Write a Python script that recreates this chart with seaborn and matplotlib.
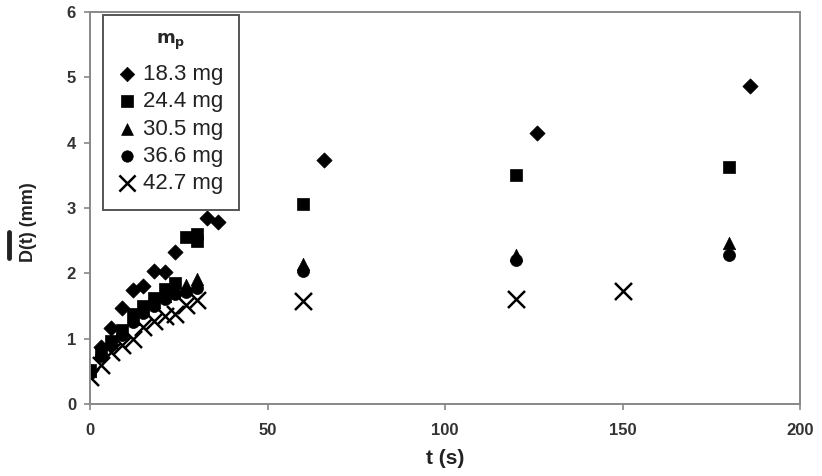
import matplotlib
matplotlib.use("Agg")
import matplotlib.pyplot as plt
import seaborn as sns
import pandas as pd
from matplotlib.lines import Line2D

sns.set_style("white")
plt.rcParams['font.family'] = ['Liberation Sans', 'DejaVu Sans']

labels = ["18.3 mg", "24.4 mg", "30.5 mg", "36.6 mg", "42.7 mg"]
markers = ["D", "s", "^", "o", "x"]

t_183 = [0, 3, 6, 9, 12, 15, 18, 21, 24, 33, 36, 66, 126, 186]
d_183 = [0.50, 0.88, 1.16, 1.47, 1.75, 1.81, 2.04, 2.02, 2.33, 2.85, 2.78, 3.73, 4.15, 4.86]

t_244 = [0, 3, 6, 9, 12, 15, 18, 21, 24, 27, 30, 30, 60, 120, 180]
d_244 = [0.52, 0.76, 0.96, 1.13, 1.37, 1.50, 1.62, 1.76, 1.85, 2.56, 2.60, 2.49, 3.06, 3.51, 3.63]

t_305 = [0, 3, 6, 9, 12, 15, 18, 21, 24, 27, 30, 60, 120, 180]
d_305 = [0.50, 0.80, 0.95, 1.10, 1.30, 1.45, 1.56, 1.66, 1.76, 1.82, 1.91, 2.14, 2.28, 2.47]

t_366 = [0, 3, 6, 9, 12, 15, 18, 21, 24, 27, 30, 60, 120, 180]
d_366 = [0.48, 0.74, 0.90, 1.05, 1.25, 1.40, 1.50, 1.60, 1.68, 1.72, 1.78, 2.03, 2.20, 2.28]

t_427 = [0, 3, 6, 9, 12, 15, 18, 21, 24, 27, 30, 60, 120, 150]
d_427 = [0.42, 0.60, 0.80, 0.90, 1.00, 1.18, 1.27, 1.35, 1.38, 1.52, 1.59, 1.58, 1.60, 1.73]

series_t = [t_183, t_244, t_305, t_366, t_427]
series_d = [d_183, d_244, d_305, d_366, d_427]

x_ticks = [0, 50, 100, 150, 200]
y_ticks = [0, 1, 2, 3, 4, 5, 6]

fig = plt.figure(figsize=(8.22, 4.76), dpi=100)
ax = fig.add_axes([90/822, 1-404/476, 710/822, 392/476])

sizes = [60, 75, 80, 75, 150]
for lab, mk, tt, dd, sz in zip(labels, markers, series_t, series_d, sizes):
    df = pd.DataFrame({"t": tt, "D": dd})
    if mk == "x":
        sns.scatterplot(data=df, x="t", y="D", marker=mk, color="black",
                        s=sz, linewidth=1.8, label=lab, ax=ax)
    else:
        sns.scatterplot(data=df, x="t", y="D", marker=mk, color="black",
                        s=sz, edgecolor="black", linewidth=0.5, label=lab, ax=ax)

ax.set_xlim(0, 200)
ax.set_ylim(0, 6)
ax.set_xticks(x_ticks)
ax.set_yticks(y_ticks)
ax.tick_params(axis="both", direction="out", length=4, width=1.2, color="#888888",
               labelsize=12, labelcolor="#333333", bottom=True, left=True)
ax.tick_params(axis="x", pad=10)
ax.tick_params(axis="y", pad=6)
for lbl in ax.get_xticklabels() + ax.get_yticklabels():
    lbl.set_fontweight("bold")
for sp in ax.spines.values():
    sp.set_color("#888888")
    sp.set_linewidth(1.4)

ax.set_xlabel("t (s)", fontsize=15, fontweight="bold", color="#222222")
ax.xaxis.set_label_coords(0.5, -(468 - 404) / 392)
ax.xaxis.label.set_va("bottom")
ax.set_ylabel("D(t) (mm)", fontsize=13, fontweight="bold", color="#222222")
ax.yaxis.set_label_coords(-(90 - 37) / 710, (404 - 222) / 392)
# overbar of D
fig.add_artist(Line2D([9/822, 9/822], [1-232/476, 1-258/476], color="#222222",
                      linewidth=3.5, transform=fig.transFigure))

leg = ax.legend(title=r"$\mathbf{m_p}$", loc="upper left",
                bbox_to_anchor=(13/710, 1 - 3/392), frameon=True, fancybox=False,
                fontsize=16, title_fontsize=13, handletextpad=0.3, handlelength=0.8,
                labelspacing=0.28, borderpad=0.7, borderaxespad=0.0,
                markerscale=0.95)
leg._legend_box.sep = 9
leg.get_frame().set_edgecolor("#555555")
leg.get_frame().set_linewidth(1.4)
leg.get_frame().set_facecolor("white")
leg.get_frame().set_alpha(1)
for txt in leg.get_texts():
    txt.set_color("#222222")

fig.savefig("out.png", dpi=100)
